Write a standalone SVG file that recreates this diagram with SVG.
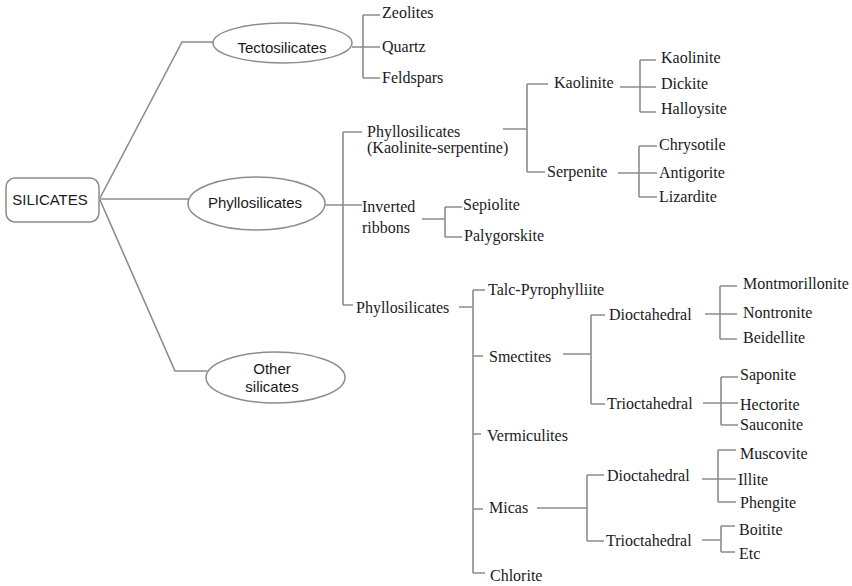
<svg xmlns="http://www.w3.org/2000/svg" width="852" height="586" viewBox="0 0 852 586">
<style>
.ln{fill:none;stroke:#8c8c8c;stroke-width:1.6}
.nd{fill:#fff;stroke:#8c8c8c;stroke-width:1.5}
.sf{font-family:"Liberation Serif","Times New Roman",serif;font-size:16px;fill:#1a1a1a}
.ss{font-family:"Liberation Sans",Arial,sans-serif;font-size:15px;fill:#1a1a1a;text-anchor:middle}
</style>
<rect width="852" height="586" fill="#fff"/>
<g id="connectors">
<polyline class="ln" points="100,198 182,42 213,42"/>
<polyline class="ln" points="100,199 188,199"/>
<polyline class="ln" points="100,200 175,371 207,371"/>
<path class="ln" d="M352,47H380M363,15V78M363,15H380M363,78H380"/>
<path class="ln" d="M325,205H362M343,132V305M343,132H362M343,305H353"/>
<path class="ln" d="M422,219H445M445,207V237M445,207H462M445,237H462"/>
<path class="ln" d="M503,129H527M527,84V172M527,84H548M527,172H545"/>
<path class="ln" d="M620,87H656M640,60V112M640,60H656M640,112H656"/>
<path class="ln" d="M618,173H657M639,146V197M639,146H657M639,197H657"/>
<path class="ln" d="M459,307H473M473,290V573M473,290H485M473,356H483M473,434H481M473,509H483M473,573H485"/>
<path class="ln" d="M563,354H591M591,315V404M591,315H605M591,404H605"/>
<path class="ln" d="M705,314H737M720,286V339M720,286H737M720,339H737"/>
<path class="ln" d="M703,403H738M721,377V425M721,377H738M721,425H738"/>
<path class="ln" d="M537,508H587M587,475V541M587,475H604M587,541H604"/>
<path class="ln" d="M702,479H736M718,450V502M718,450H736M718,502H736"/>
<path class="ln" d="M702,540H721M721,526V552M721,526H735M721,552H735"/>
</g>
<g id="silicates"><rect class="nd" x="6" y="178" width="93" height="44" rx="9"/><text class="ss" x="50" y="205">SILICATES</text></g>
<g id="tectosilicates"><ellipse class="nd" cx="282.5" cy="43" rx="69.5" ry="20"/><text class="ss" x="282" y="53">Tectosilicates</text></g>
<g id="phyllosilicates"><ellipse class="nd" cx="256.5" cy="203.5" rx="68.5" ry="26.5"/><text class="ss" x="255" y="208">Phyllosilicates</text></g>
<g id="other"><ellipse class="nd" cx="275.5" cy="377.5" rx="69.5" ry="25.5"/><text class="ss" x="272" y="374">Other</text><text class="ss" x="272" y="392">silicates</text></g>
<g id="zeolites"><text class="sf" x="382" y="18">Zeolites</text></g>
<g id="quartz"><text class="sf" x="382" y="52">Quartz</text></g>
<g id="feldspars"><text class="sf" x="382" y="83">Feldspars</text></g>
<g id="phyllo-ks"><text class="sf" x="367" y="137">Phyllosilicates</text><text class="sf" x="367" y="153">(Kaolinite-serpentine)</text></g>
<g id="inverted"><text class="sf" x="362" y="212">Inverted</text><text class="sf" x="362" y="233">ribbons</text></g>
<g id="sepiolite"><text class="sf" x="463" y="210">Sepiolite</text></g>
<g id="palygorskite"><text class="sf" x="464" y="241">Palygorskite</text></g>
<g id="kaolinite-group"><text class="sf" x="554" y="88">Kaolinite</text></g>
<g id="serpenite"><text class="sf" x="547" y="177">Serpenite</text></g>
<g id="kaolinite"><text class="sf" x="661" y="63">Kaolinite</text></g>
<g id="dickite"><text class="sf" x="661" y="89">Dickite</text></g>
<g id="halloysite"><text class="sf" x="661" y="114">Halloysite</text></g>
<g id="chrysotile"><text class="sf" x="659" y="150">Chrysotile</text></g>
<g id="antigorite"><text class="sf" x="659" y="178">Antigorite</text></g>
<g id="lizardite"><text class="sf" x="659" y="202">Lizardite</text></g>
<g id="phyllo-lower"><text class="sf" x="356" y="313">Phyllosilicates</text></g>
<g id="talc"><text class="sf" x="488" y="295">Talc-Pyrophylliite</text></g>
<g id="smectites"><text class="sf" x="489" y="362">Smectites</text></g>
<g id="vermiculites"><text class="sf" x="487" y="441">Vermiculites</text></g>
<g id="micas"><text class="sf" x="489" y="513">Micas</text></g>
<g id="chlorite"><text class="sf" x="490" y="581">Chlorite</text></g>
<g id="smec-di"><text class="sf" x="609" y="320">Dioctahedral</text></g>
<g id="smec-tri"><text class="sf" x="607" y="409">Trioctahedral</text></g>
<g id="montmorillonite"><text class="sf" x="743" y="289">Montmorillonite</text></g>
<g id="nontronite"><text class="sf" x="743" y="318">Nontronite</text></g>
<g id="beidellite"><text class="sf" x="743" y="343">Beidellite</text></g>
<g id="saponite"><text class="sf" x="740" y="380">Saponite</text></g>
<g id="hectorite"><text class="sf" x="740" y="410">Hectorite</text></g>
<g id="sauconite"><text class="sf" x="740" y="430">Sauconite</text></g>
<g id="mica-di"><text class="sf" x="607" y="481">Dioctahedral</text></g>
<g id="mica-tri"><text class="sf" x="606" y="546">Trioctahedral</text></g>
<g id="muscovite"><text class="sf" x="740" y="459">Muscovite</text></g>
<g id="illite"><text class="sf" x="738" y="485">Illite</text></g>
<g id="phengite"><text class="sf" x="740" y="508">Phengite</text></g>
<g id="boitite"><text class="sf" x="739" y="535">Boitite</text></g>
<g id="etc"><text class="sf" x="739" y="559">Etc</text></g>
</svg>
